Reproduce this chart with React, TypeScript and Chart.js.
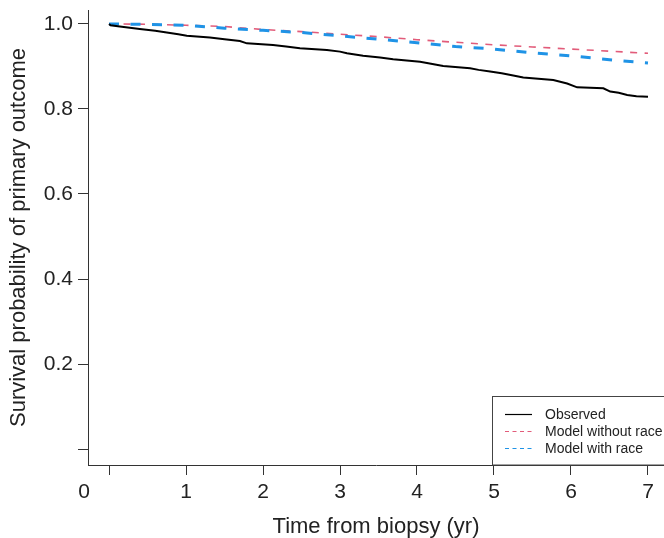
import React, { useEffect, useRef } from "react";
import { Chart, registerables } from "chart.js";

Chart.register(...registerables);

// Observed Kaplan–Meier survival (time in years, probability)
const observedTimes = [0, 0.02, 0.14, 0.4, 0.6, 0.75, 0.9, 1.01, 1.31, 1.5, 1.7, 1.79, 2.13, 2.3, 2.48, 2.83, 3.0, 3.09, 3.3, 3.52, 3.69, 4.04, 4.2, 4.34, 4.69, 4.8, 4.95, 5.1, 5.25, 5.38, 5.77, 5.95, 6.08, 6.42, 6.51, 6.62, 6.73, 6.85, 7.0];
const observedValues = [1.0, 0.997, 0.994, 0.988, 0.984, 0.98, 0.976, 0.9725, 0.968, 0.964, 0.96, 0.9545, 0.9506, 0.947, 0.943, 0.939, 0.935, 0.931, 0.925, 0.921, 0.917, 0.911, 0.906, 0.901, 0.896, 0.892, 0.888, 0.884, 0.879, 0.874, 0.868, 0.86, 0.851, 0.8487, 0.841, 0.838, 0.833, 0.83, 0.829];

// Model predictions
const modelTimes = [0, 0.5, 1, 1.5, 2, 2.5, 3, 3.5, 4, 4.5, 5, 5.5, 6, 6.5, 7];
const modelWithoutRace = [1.0, 0.9995, 0.997, 0.994, 0.987, 0.982, 0.976, 0.97, 0.963, 0.957, 0.951, 0.946, 0.941, 0.936, 0.931];
const modelWithRace = [1.0, 0.999, 0.997, 0.99, 0.985, 0.98, 0.972, 0.964, 0.956, 0.947, 0.941, 0.932, 0.925, 0.916, 0.908];

const xTickValues = [0, 1, 2, 3, 4, 5, 6, 7];
const yTickValues = [0, 0.2, 0.4, 0.6, 0.8, 1.0];

const legendLabels = ["Observed", "Model without race", "Model with race"];

const RED = "#E25C7A";
const BLUE = "#1F93E6";
const FONT = "'Liberation Sans', Arial, Helvetica, sans-serif";
const TEXT = "#222";

const zip = (xs: number[], ys: number[]) => xs.map((x, i) => ({ x, y: ys[i] }));

const legendPlugin = {
  id: "boxLegend",
  afterDraw(chart: any) {
    const ctx = chart.ctx;
    const area = chart.chartArea;
    ctx.save();
    const left = 492;
    const top = 396.5;
    ctx.fillStyle = "#fff";
    ctx.fillRect(left, top, 300, area.bottom - top);
    ctx.strokeStyle = "#444";
    ctx.lineWidth = 1;
    ctx.strokeRect(left + 0.5, top, 300, area.bottom - top);
    const rows = [414, 431, 448];
    const styles = [
      { color: "#000", dash: [] as number[], w: 1.2 },
      { color: RED, dash: [4, 3.5], w: 1.2 },
      { color: BLUE, dash: [4, 3.5], w: 1.2 },
    ];
    ctx.font = `14px ${FONT}`;
    ctx.textBaseline = "middle";
    ctx.textAlign = "left";
    rows.forEach((y, i) => {
      const s = styles[i];
      ctx.beginPath();
      ctx.setLineDash(s.dash);
      ctx.strokeStyle = s.color;
      ctx.lineWidth = s.w;
      ctx.moveTo(505, y + 0.5);
      ctx.lineTo(532, y + 0.5);
      ctx.stroke();
      ctx.setLineDash([]);
      ctx.fillStyle = TEXT;
      ctx.fillText(legendLabels[i], 545, y + 1);
    });
    ctx.restore();
  },
};

export default function App() {
  const ref = useRef<HTMLCanvasElement | null>(null);

  useEffect(() => {
    if (!ref.current) return;
    const chart = new Chart(ref.current, {
      type: "line",
      data: {
        datasets: [
          {
            label: legendLabels[0],
            data: zip(observedTimes, observedValues),
            borderColor: "#000",
            borderWidth: 2,
            pointRadius: 0,
            tension: 0,
            fill: false,
            order: 0,
          },
          {
            label: legendLabels[1],
            data: zip(modelTimes, modelWithoutRace),
            borderColor: RED,
            borderWidth: 1.6,
            borderDash: [7, 7.5],
            pointRadius: 0,
            tension: 0,
            fill: false,
            order: 2,
          },
          {
            label: legendLabels[2],
            data: zip(modelTimes, modelWithRace),
            borderColor: BLUE,
            borderWidth: 3,
            borderDash: [10, 11.5],
            pointRadius: 0,
            tension: 0,
            fill: false,
            order: 1,
          },
        ],
      },
      options: {
        responsive: false,
        animation: false,
        layout: { padding: { left: 0, right: 0, top: 10, bottom: 0 } },
        plugins: {
          legend: { display: false },
          tooltip: { enabled: false },
        },
        scales: {
          x: {
            type: "linear",
            min: -0.273,
            max: 7.208,
            afterFit: (scale: any) => {
              scale.height = 73;
              scale.paddingLeft = 0;
              scale.paddingRight = 0;
            },
            afterBuildTicks: (scale: any) => {
              scale.ticks = [{ value: -0.325 }, ...xTickValues.map((v) => ({ value: v }))];
            },
            border: { display: true, color: "#333", width: 1 },
            grid: {
              drawOnChartArea: false,
              drawTicks: true,
              tickLength: 10,
              tickColor: (c: any) => (c.tick && c.tick.value < -0.1 ? "rgba(0,0,0,0)" : "#333"),
              tickWidth: 1,
            },
            ticks: {
              autoSkip: false,
              maxRotation: 0,
              padding: 5,
              color: TEXT,
              font: { family: FONT, size: 21 },
              callback: (v: any) => (v < -0.1 ? "0" : v === 0 ? "" : String(v)),
            },
            title: {
              display: true,
              text: "Time from biopsy (yr)",
              color: TEXT,
              font: { family: FONT, size: 22 },
              padding: { top: 0, bottom: -2 },
            },
          },
          y: {
            type: "linear",
            min: -0.0376,
            max: 1.0329,
            afterFit: (scale: any) => {
              scale.width = 88;
              scale.paddingTop = 0;
              scale.paddingBottom = 0;
            },
            afterBuildTicks: (scale: any) => {
              scale.ticks = yTickValues.map((v) => ({ value: v }));
            },
            border: { display: true, color: "#333", width: 1 },
            grid: {
              drawOnChartArea: false,
              drawTicks: true,
              tickLength: 10,
              tickColor: "#333",
              tickWidth: 1,
            },
            ticks: {
              padding: 5,
              color: TEXT,
              font: { family: FONT, size: 21 },
              callback: (v: any) => (Math.abs(v) < 1e-9 ? "" : Number(v).toFixed(1)),
            },
            title: {
              display: true,
              text: "Survival probability of primary outcome",
              color: TEXT,
              font: { family: FONT, size: 22 },
              padding: { top: 6, bottom: 0 },
            },
          },
        },
      },
      plugins: [legendPlugin],
    } as any);
    return () => chart.destroy();
  }, []);

  return (
    <div style={{ position: "absolute", left: 0, top: 0, width: 664, height: 538 }}>
      <canvas ref={ref} width={664} height={538} style={{ width: 664, height: 538, display: "block" }} />
    </div>
  );
}
